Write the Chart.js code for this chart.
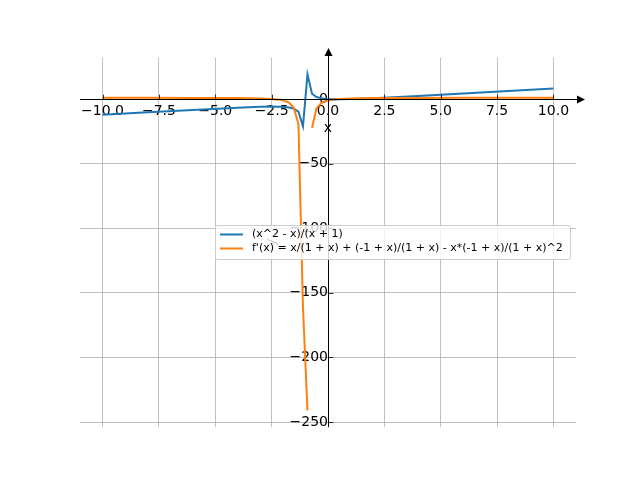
<!DOCTYPE html>
<html>
<head>
<meta charset="utf-8">
<script src="https://cdn.jsdelivr.net/npm/chart.js@4.4.0/dist/chart.umd.min.js"></script>
<style>
  body { margin: 0; background: #fff; }
  canvas { display: block; }
</style>
</head>
<body>
<canvas id="plot" width="640" height="480"></canvas>
<script>
// sample points
var xValues = [-10, -8, -6, -4, -3, -2.52, -2.12, -1.92, -1.72, -1.52, -1.31, -1.11, -0.91, -0.71, -0.51, -0.30, -0.10, 0.10, 0.5, 1, 2, 4, 6, 8, 10];
var fValues = [-12.22, -10.29, -8.4, -6.67, -6, -5.84, -5.91, -6.10, -6.51, -7.40, -9.70, -21.1, 19.1, 4.12, 1.54, 0.57, 0.12, -0.08, -0.17, 0, 0.67, 2.4, 4.29, 6.22, 8.18];
var dfValues = [0.975, 0.959, 0.92, 0.778, 0.5, 0.14, -0.59, -1.37, -2.89, -6.54, -19.4, -161, -241, -22.3, -7.16, -3.12, -1.47, -0.65, 0.11, 0.5, 0.78, 0.92, 0.96, 0.975, 0.983];
var gapAfter = -0.91; // derivative line is broken at the pole

var xTicks = [-10, -7.5, -5, -2.5, 0, 2.5, 5, 7.5, 10];
var yTicks = [-250, -200, -150, -100, -50, 0];

var seriesNames = ["(x^2 - x)/(x + 1)", "f'(x) = x/(1 + x) + (-1 + x)/(1 + x) - x*(-1 + x)/(1 + x)^2"];
var seriesColors = ["#1f77b4", "#ff7f0e"];

var blueData = xValues.map(function (x, i) { return { x: x, y: fValues[i] }; });
var orangeData = [];
xValues.forEach(function (x, i) {
  orangeData.push({ x: x, y: dfValues[i] });
  if (x === gapAfter) orangeData.push({ x: (x + xValues[i + 1]) / 2, y: null });
});

function minusSign(s) { return String(s).replace("-", "\u2212"); }

// spines with arrows, inward ticks, axis labels and legend (matplotlib look)
var extras = {
  id: "extras",
  afterDatasetsDraw: function (chart) {
    var ctx = chart.ctx;
    var xs = chart.scales.x, ys = chart.scales.y;
    var a = chart.chartArea;
    var x0 = Math.round(xs.getPixelForValue(0)) + 0.5;
    var y0 = Math.round(ys.getPixelForValue(0)) + 0.5;
    ctx.save();
    ctx.strokeStyle = "#000";
    ctx.fillStyle = "#000";
    ctx.lineWidth = 1;
    ctx.beginPath();
    ctx.moveTo(a.left, y0); ctx.lineTo(a.right + 2, y0);
    ctx.moveTo(x0, a.bottom); ctx.lineTo(x0, a.top - 2);
    ctx.stroke();

    // tick marks point inward: up on the x axis, right on the y axis
    ctx.lineWidth = 0.8;
    ctx.beginPath();
    xTicks.forEach(function (v) {
      var px = Math.round(xs.getPixelForValue(v)) + 0.5;
      ctx.moveTo(px, y0); ctx.lineTo(px, y0 - 4.9);
    });
    yTicks.forEach(function (v) {
      var py = Math.round(ys.getPixelForValue(v)) + 0.5;
      ctx.moveTo(x0, py); ctx.lineTo(x0 + 4.9, py);
    });
    ctx.stroke();

    // right arrow
    ctx.beginPath();
    ctx.moveTo(a.right + 9, y0);
    ctx.lineTo(a.right + 1, y0 - 4);
    ctx.lineTo(a.right + 1, y0 + 4);
    ctx.closePath(); ctx.fill();
    // up arrow
    ctx.beginPath();
    ctx.moveTo(x0, a.top - 9.6);
    ctx.lineTo(x0 - 4, a.top - 1.6);
    ctx.lineTo(x0 + 4, a.top - 1.6);
    ctx.closePath(); ctx.fill();

    ctx.font = "14px 'DejaVu Sans'";
    ctx.textAlign = "center";
    ctx.textBaseline = "alphabetic";
    ctx.fillText("x", (a.left + a.right) / 2, 132);
    ctx.translate(275, (a.top + a.bottom) / 2);
    ctx.rotate(-Math.PI / 2);
    ctx.fillText("y", 0, 0);
    ctx.restore();
  },
  afterDraw: function (chart) {
    var ctx = chart.ctx;
    ctx.save();
    ctx.beginPath();
    ctx.roundRect(215.5, 225.5, 355, 34, 2);
    ctx.fillStyle = "rgba(255,255,255,0.8)";
    ctx.fill();
    ctx.strokeStyle = "#cccccc";
    ctx.lineWidth = 1;
    ctx.stroke();
    ctx.font = "11px 'DejaVu Sans'";
    ctx.textBaseline = "middle";
    ctx.textAlign = "left";
    for (var i = 0; i < seriesNames.length; i++) {
      var ly = 234.5 + i * 14;
      ctx.strokeStyle = seriesColors[i];
      ctx.lineWidth = 2;
      ctx.beginPath();
      ctx.moveTo(220, ly); ctx.lineTo(243, ly);
      ctx.stroke();
      ctx.fillStyle = "#000";
      ctx.fillText(seriesNames[i], 252, ly);
    }
    ctx.restore();
  }
};

new Chart(document.getElementById("plot").getContext("2d"), {
  type: "line",
  data: {
    datasets: [
      { label: seriesNames[0], data: blueData, borderColor: seriesColors[0], borderWidth: 2, pointRadius: 0, tension: 0, order: 2 },
      { label: seriesNames[1], data: orangeData, borderColor: seriesColors[1], borderWidth: 2, pointRadius: 0, tension: 0, spanGaps: false, order: 1 }
    ]
  },
  options: {
    responsive: false,
    animation: false,
    devicePixelRatio: 1,
    layout: { padding: { left: 80, right: 64, top: 57.6, bottom: 52.8 } },
    plugins: { legend: { display: false }, tooltip: { enabled: false } },
    scales: {
      x: {
        type: "linear",
        position: { y: 0 },
        min: -11, max: 11,
        afterBuildTicks: function (s) { s.ticks = xTicks.map(function (v) { return { value: v }; }); },
        ticks: {
          color: "#000",
          font: { family: "DejaVu Sans", size: 14 },
          padding: 3.5,
          maxRotation: 0,
          callback: function (v) { return minusSign(Number(v).toFixed(1)); }
        },
        grid: { color: "#b0b0b0", lineWidth: 0.8, drawTicks: false },
        border: { display: false }
      },
      y: {
        type: "linear",
        position: { x: 0 },
        min: -254, max: 32.1,
        afterBuildTicks: function (s) { s.ticks = yTicks.map(function (v) { return { value: v }; }); },
        ticks: {
          color: "#000",
          font: { family: "DejaVu Sans", size: 14 },
          padding: 6,
          callback: function (v) { return minusSign(v); }
        },
        grid: { color: "#b0b0b0", lineWidth: 0.8, drawTicks: false },
        border: { display: false }
      }
    }
  },
  plugins: [extras]
});
</script>
</body>
</html>
